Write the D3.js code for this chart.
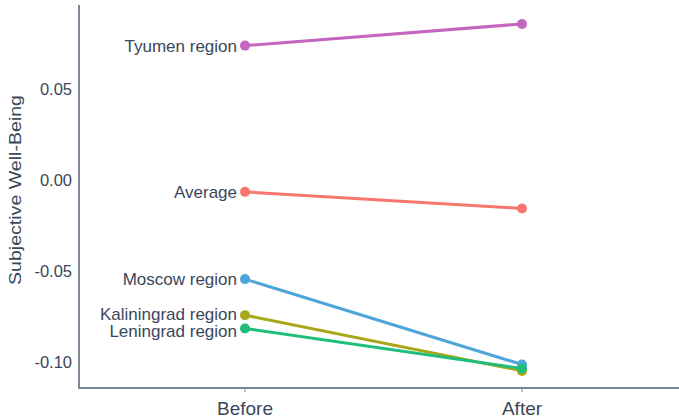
<!DOCTYPE html>
<html><head><meta charset="utf-8">
<script src="https://cdn.jsdelivr.net/npm/d3@7"></script>
<style>body{margin:0;background:#fff}svg{display:block}text{font-family:"Liberation Sans",Arial,sans-serif}</style>
</head><body><svg id="c" width="679" height="419"></svg>
<script>
const periods = ["Before", "After"];
const regions = ["Tyumen region", "Average", "Moscow region", "Kaliningrad region", "Leningrad region"];
const beforeVals = [0.0741, -0.0062, -0.0541, -0.0739, -0.0812];
const afterVals = [0.0860, -0.0153, -0.1010, -0.1045, -0.1032];
const colors = ["#c466c0", "#f8766d", "#4ea5d9", "#a8a61a", "#1fbf7b"];
const yTicks = [0.05, 0.00, -0.05, -0.10];
const labelDy = [0, 0, 0, -1, 3];

const svg = d3.select("#c");
const x = d3.scalePoint().domain(periods).range([245, 522]);
const y = d3.scaleLinear().domain([-0.1139, 0.0964]).range([388, 5]);
const axisCol = "#7d8698", textCol = "#3b475a";

svg.append("line").attr("x1", 79).attr("x2", 79).attr("y1", 5).attr("y2", 389)
  .attr("stroke", axisCol).attr("stroke-width", 2);
svg.append("line").attr("x1", 78).attr("x2", 679).attr("y1", 388).attr("y2", 388)
  .attr("stroke", axisCol).attr("stroke-width", 2);

svg.selectAll(".yt").data(yTicks).enter().append("text")
  .attr("x", 72).attr("y", d => y(d)).attr("dy", "0.35em").attr("text-anchor", "end")
  .attr("fill", textCol).attr("font-size", 16.5).text(d => d3.format(".2f")(d).replace("\u2212", "-"));
svg.selectAll(".xtk").data(periods).enter().append("line")
  .attr("x1", d => x(d)).attr("x2", d => x(d)).attr("y1", 389).attr("y2", 392)
  .attr("stroke", axisCol).attr("stroke-width", 1);
svg.selectAll(".xt").data(periods).enter().append("text")
  .attr("x", d => x(d)).attr("y", 415).attr("text-anchor", "middle")
  .attr("fill", textCol).attr("font-size", 19).text(d => d);
svg.append("text").attr("transform", "translate(21,190) rotate(-90)").attr("text-anchor", "middle")
  .attr("fill", textCol).attr("font-size", 17).attr("textLength", 190).attr("lengthAdjust", "spacingAndGlyphs")
  .text("Subjective Well-Being");

const data = regions.map((r, i) => ({r, b: beforeVals[i], a: afterVals[i], c: colors[i], dy: labelDy[i]}));
svg.selectAll(".ln").data(data).enter().append("line")
  .attr("x1", x("Before")).attr("x2", x("After"))
  .attr("y1", d => y(d.b)).attr("y2", d => y(d.a))
  .attr("stroke", d => d.c).attr("stroke-width", 3);
data.forEach(d => {
  svg.append("circle").attr("cx", x("Before")).attr("cy", y(d.b)).attr("r", 5).attr("fill", d.c);
  svg.append("circle").attr("cx", x("After")).attr("cy", y(d.a)).attr("r", 5).attr("fill", d.c);
});
svg.selectAll(".lab").data(data).enter().append("text")
  .attr("x", x("Before") - 8).attr("y", d => y(d.b) + d.dy).attr("dy", "0.35em").attr("text-anchor", "end")
  .attr("fill", textCol).attr("font-size", 17).text(d => d.r);
</script></body></html>
